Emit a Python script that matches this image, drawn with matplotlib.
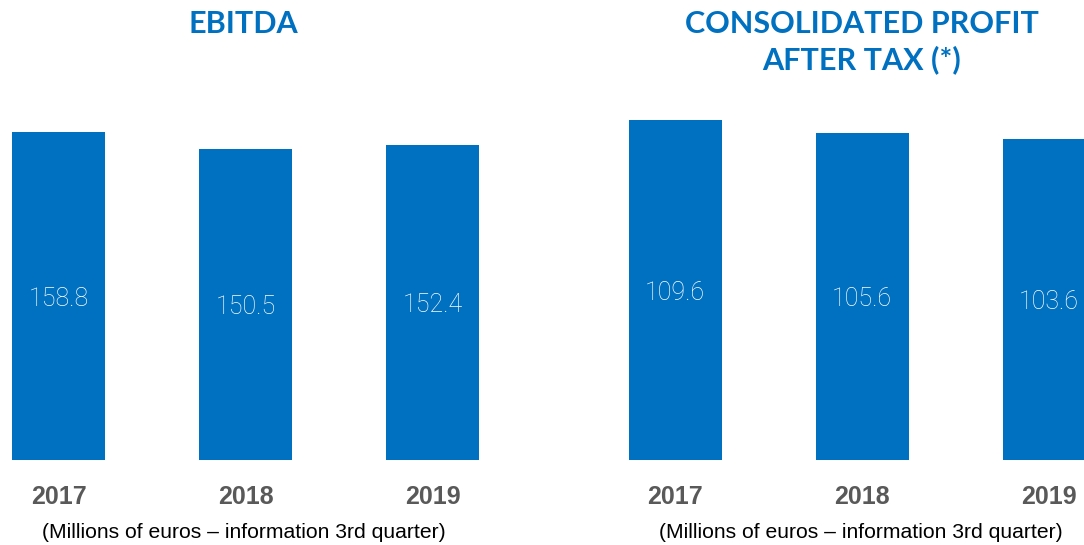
import matplotlib
matplotlib.use("Agg")
import matplotlib.pyplot as plt

years = ["2017", "2018", "2019"]
ebitda = [158.8, 150.5, 152.4]
profit = [109.6, 105.6, 103.6]
titles = ["EBITDA", "CONSOLIDATED PROFIT\nAFTER TAX (*)"]
subtitle = "(Millions of euros \u2013 information 3rd quarter)"

BLUE = "#0070C0"
GREY = "#595959"

W, H = 1084, 545
fig = plt.figure(figsize=(W / 100, H / 100), dpi=100)

def px_x(x):
    return x / W

def px_y(y):
    return 1 - y / H

ax_bottom = 460
ax_top = 100
spacing = 187.0
bar_w = 93.0 / spacing

panels = [
    dict(vals=ebitda, x0=0, x1=540, first=58.5, scale=2.065, title=titles[0], tcx=243, sub_cx=244),
    dict(vals=profit, x0=540, x1=1084, first=675, scale=3.10, title=titles[1], tcx=862, sub_cx=861),
]

for p in panels:
    ax = fig.add_axes([px_x(p["x0"]), px_y(ax_bottom), px_x(p["x1"] - p["x0"]),
                       (ax_bottom - ax_top) / H])
    xs = list(range(len(years)))
    ax.bar(xs, p["vals"], width=bar_w, color=BLUE)
    ax.set_xlim(-(p["first"] - p["x0"]) / spacing, (p["x1"] - p["first"]) / spacing)
    ax.set_ylim(0, (ax_bottom - ax_top) / p["scale"])
    for x, v in zip(xs, p["vals"]):
        ax.text(x, v / 2, f"{v:.1f}", ha="center", va="center_baseline", color="white",
                fontsize=18, family="Roboto", fontweight="light")
    ax.set_xticks(xs)
    ax.set_xticklabels(years, fontsize=18, fontweight="bold", color=GREY,
                       family="Liberation Sans")
    ax.tick_params(axis="x", length=0, pad=18)
    ax.set_yticks([])
    for s in ax.spines.values():
        s.set_visible(False)
    fig.text(px_x(p["tcx"]), px_y(10), p["title"], ha="center", va="top",
             fontsize=22, fontweight="bold", color=BLUE, family="Lato",
             linespacing=1.3)
    fig.text(px_x(p["sub_cx"]), px_y(532), subtitle, ha="center", va="center",
             fontsize=15.2, color="black", family="Liberation Sans")

fig.savefig("out.png", dpi=100)
